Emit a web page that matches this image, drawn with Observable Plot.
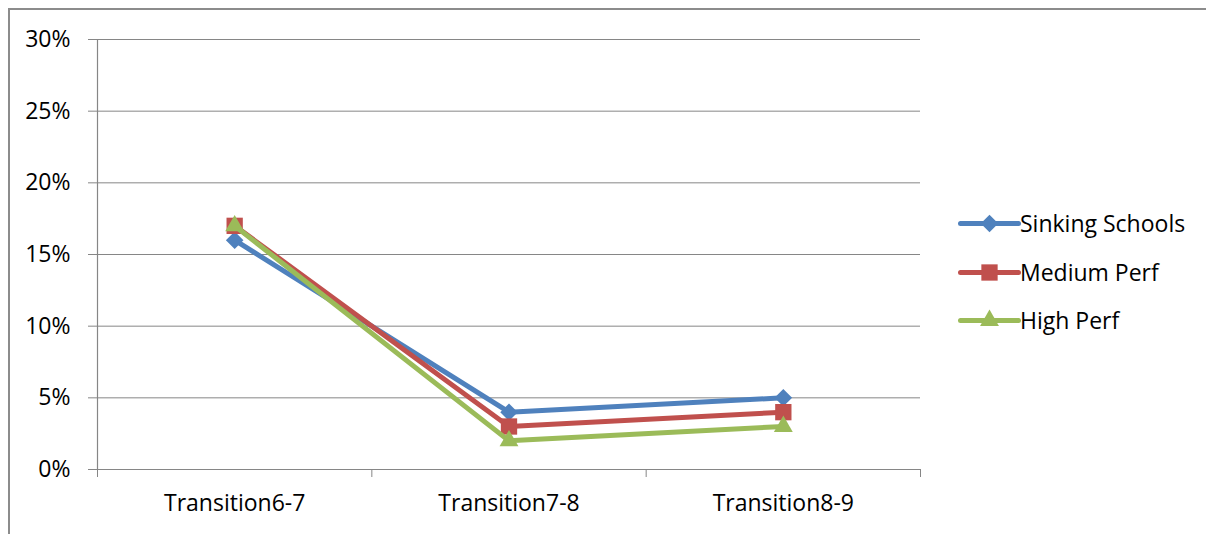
<!DOCTYPE html>
<html>
<head>
<meta charset="utf-8">
<script src="https://cdn.jsdelivr.net/npm/d3@7"></script>
<script src="https://cdn.jsdelivr.net/npm/@observablehq/plot@0.6"></script>
<style>
  html, body { margin: 0; padding: 0; background: #fff; }
  #wrap { position: relative; width: 1206px; height: 534px; overflow: hidden; font-family: "Open Sans", sans-serif; }
  #frame { position: absolute; left: 8px; top: 8px; width: 1300px; height: 600px; border-left: 2px solid #8c8c8c; border-top: 2px solid #8c8c8c; box-sizing: border-box; pointer-events: none; }
  #chart { position: absolute; left: 0; top: 0; }
  #legend { position: absolute; left: 960px; top: 199px; }
  .item { display: flex; align-items: center; height: 48.5px; font-size: 23px; color: #000; }
  .item svg { margin-right: 2px; }
</style>
</head>
<body>
<div id="wrap">
  <div id="chart"></div>
  <div id="frame"></div>
  <div id="legend"></div>
</div>
<script>
// Share of pupils per transition, by school group
const categories = ["Transition6-7", "Transition7-8", "Transition8-9"];
const seriesNames = ["Sinking Schools", "Medium Perf", "High Perf"];
const sinking = [0.16, 0.04, 0.05];
const medium = [0.17, 0.03, 0.04];
const high = [0.17, 0.02, 0.03];
const yTicks = [0, 0.05, 0.10, 0.15, 0.20, 0.25, 0.30];

const colors = ["#4F81BD", "#C0504D", "#9BBB59"];
const symbols = ["square", "square", "triangle"];
const rotations = [45, 0, 0];
const radii = [7, 9.2, 7];

const seriesValues = [sinking, medium, high];
const rows = seriesValues.flatMap((vals, s) =>
  vals.map((v, i) => ({series: seriesNames[s], s, cat: categories[i], x: i + 0.5, value: v}))
);

const marks = [
  Plot.gridY(yTicks, {stroke: "#868686", strokeOpacity: 1, strokeWidth: 1}),
  Plot.axisY(yTicks, {tickFormat: d3.format(".0%"), tickSize: 9, tickPadding: 18, fontSize: 23, stroke: "#868686", color: "#000", label: null}),
  Plot.ruleX([0], {stroke: "#868686", strokeWidth: 1.2}),
  Plot.ruleY([0], {stroke: "#868686", strokeWidth: 1.2}),
  Plot.axisX([0, 1, 2, 3], {tickSize: 8, tickFormat: () => "", stroke: "#868686", label: null}),
  Plot.axisX(categories.map((c, i) => i + 0.5), {tickSize: 0, tickPadding: 25, tickFormat: (d) => categories[Math.floor(d)], fontSize: 23, label: null})
];

seriesNames.forEach((name, s) => {
  const data = rows.filter((r) => r.s === s);
  marks.push(Plot.line(data, {x: "x", y: "value", stroke: colors[s], strokeWidth: 5}));
  marks.push(Plot.dot(data, {x: "x", y: "value", symbol: symbols[s], r: radii[s], rotate: rotations[s], fill: colors[s], stroke: "none"}));
});

const chart = Plot.plot({
  width: 1206,
  height: 534,
  marginLeft: 97,
  marginRight: 286,
  marginTop: 39,
  marginBottom: 65,
  style: {fontFamily: "'Open Sans', sans-serif", background: "transparent", overflow: "visible"},
  x: {type: "linear", domain: [0, 3], axis: null},
  y: {domain: [0, 0.30], axis: null},
  marks
});
document.getElementById("chart").append(chart);

// Legend: line with centred marker, then the series name
const legend = document.getElementById("legend");
seriesNames.forEach((name, s) => {
  const item = document.createElement("div");
  item.className = "item";
  const sw = Plot.plot({
    width: 58, height: 24, margin: 0,
    x: {domain: [0, 1], axis: null},
    y: {domain: [0, 1], axis: null},
    style: {background: "transparent", overflow: "visible"},
    marks: [
      Plot.lineX([0, 1], {y: 0.5, stroke: colors[s], strokeWidth: 5}),
      Plot.dot([0.5], {x: (d) => d, y: 0.5, symbol: symbols[s], r: radii[s], rotate: rotations[s], fill: colors[s]})
    ]
  });
  item.append(sw);
  const label = document.createElement("span");
  label.textContent = name;
  item.append(label);
  legend.append(item);
});
</script>
</body>
</html>
